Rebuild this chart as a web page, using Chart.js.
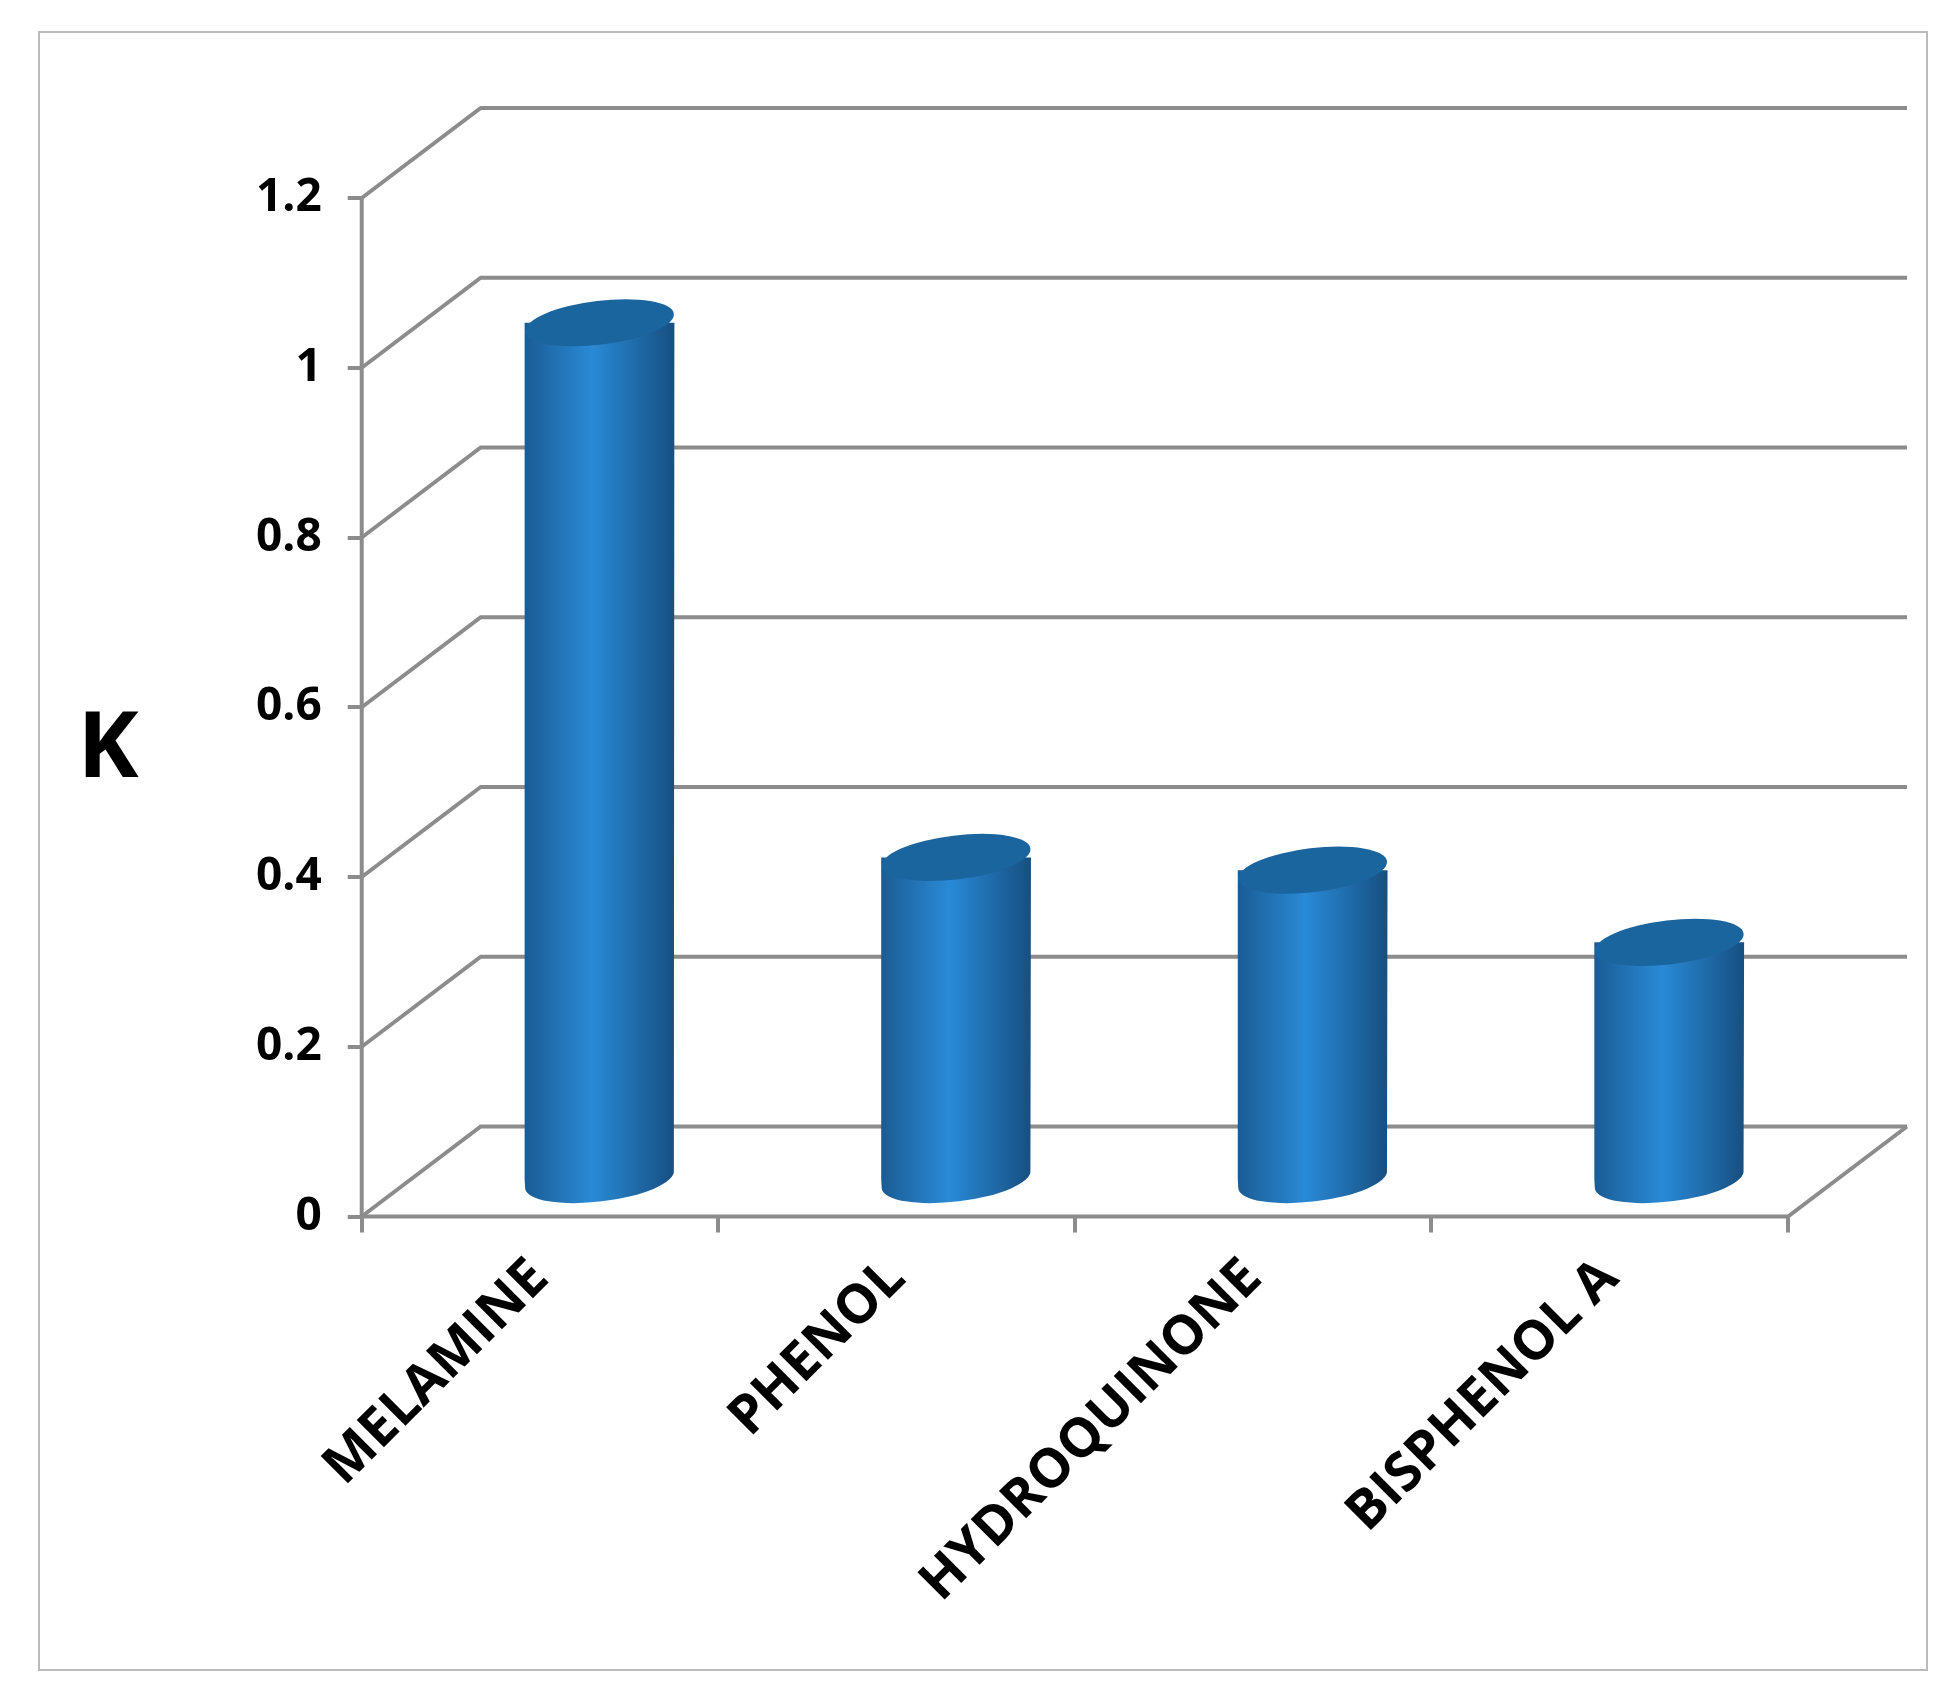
<!DOCTYPE html>
<html>
<head>
<script src="https://cdn.jsdelivr.net/npm/chart.js@4/dist/chart.umd.min.js"></script>
<style>
  body { margin: 0; background: #fff; }
  #wrap { position: absolute; left: 38px; top: 31px; width: 1890px; height: 1640px; border: 2px solid #bbb; box-sizing: border-box; }
</style>
</head>
<body>
<div id="wrap"><canvas id="barChart"></canvas></div>
<script>
const categories = ['MELAMINE', 'PHENOL', 'HYDROQUINONE', 'BISPHENOL A'];
const kValues = [1.0, 0.37, 0.355, 0.27];
const yTicks = [0, 0.2, 0.4, 0.6, 0.8, 1, 1.2];
const yTickLabels = ['0', '0.2', '0.4', '0.6', '0.8', '1', '1.2'];

const DX = 119, DY = 90; // depth offset of the back wall

// 3D-ish walls and gridlines, cylinders, horizontal axis title
const wallPlugin = {
    id: 'walls',
    beforeDatasetsDraw(chart) {
        const { ctx, chartArea: a, scales: { y } } = chart;
        ctx.save();
        ctx.strokeStyle = '#8c8c8c';
        ctx.lineWidth = 4;
        yTicks.forEach(v => {
            const py = y.getPixelForValue(v);
            ctx.beginPath();
            ctx.moveTo(a.left, py);
            ctx.lineTo(a.left + DX, py - DY);
            ctx.lineTo(a.right + DX, py - DY);
            ctx.stroke();
        });
        const p0 = y.getPixelForValue(0);
        ctx.beginPath();
        ctx.moveTo(a.left, y.getPixelForValue(1.2));
        ctx.lineTo(a.left, p0);
        ctx.lineTo(a.right, p0);
        ctx.lineTo(a.right + DX, p0 - DY);
        ctx.stroke();
        ctx.restore();
    },
    afterDatasetsDraw(chart) {
        const { ctx } = chart;
        const meta = chart.getDatasetMeta(0);
        meta.data.forEach(bar => {
            const w = bar.width, cx = bar.x + DX / 2, top = bar.y - DY / 2, bot = bar.base - DY / 2 + 10;
            const rx = w / 2, ry = 22;
            const g = ctx.createLinearGradient(cx - rx, 0, cx + rx, 0);
            g.addColorStop(0, '#1a5c94');
            g.addColorStop(0.45, '#2a8ad6');
            g.addColorStop(1, '#174f80');
            ctx.save();
            ctx.fillStyle = g;
            ctx.beginPath();
            ctx.moveTo(cx - rx, top);
            ctx.lineTo(cx - rx, bot);
            ctx.ellipse(cx, bot, rx, ry, -0.12, Math.PI, 0, true);
            ctx.lineTo(cx + rx, top);
            ctx.closePath();
            ctx.fill();
            ctx.fillStyle = '#1b659f';
            ctx.beginPath();
            ctx.ellipse(cx, top, rx, ry, -0.12, 0, Math.PI * 2);
            ctx.fill();
            ctx.restore();
        });
        ctx.save();
        ctx.fillStyle = '#000';
        ctx.font = 'bold 92px "Open Sans"';
        ctx.textAlign = 'center';
        ctx.textBaseline = 'middle';
        ctx.fillText('K', 68, 718);
        ctx.restore();
    }
};

new Chart(document.getElementById('barChart'), {
    type: 'bar',
    data: {
        labels: categories,
        datasets: [{
            data: kValues,
            backgroundColor: 'rgba(0,0,0,0)',
            barPercentage: 0.42,
            categoryPercentage: 1.0,
        }],
    },
    options: {
        responsive: true,
        maintainAspectRatio: false,
        animation: false,
        layout: { padding: { left: 190, right: 138, top: 165, bottom: 40 } },
        plugins: { legend: { display: false }, tooltip: { enabled: false } },
        scales: {
            x: {
                grid: { display: true, drawOnChartArea: false, offset: true, color: '#8c8c8c', lineWidth: 4, tickLength: 16 },
                border: { display: false },
                ticks: { color: '#000', font: { family: 'Open Sans', size: 54, weight: 'bold' }, maxRotation: 45, minRotation: 45, padding: 14 },
            },
            y: {
                min: 0, max: 1.2,
                afterBuildTicks: axis => { axis.ticks = yTicks.map(v => ({ value: v })); },
                grid: { display: true, drawOnChartArea: false, color: '#8c8c8c', lineWidth: 4, tickLength: 14 },
                border: { display: false },
                ticks: {
                    color: '#000', font: { family: 'Open Sans', size: 46, weight: 'bold' }, padding: 26,
                    callback: (v, i) => yTickLabels[i],
                },
            },
        },
    },
    plugins: [wallPlugin],
});
</script>
</body>
</html>
